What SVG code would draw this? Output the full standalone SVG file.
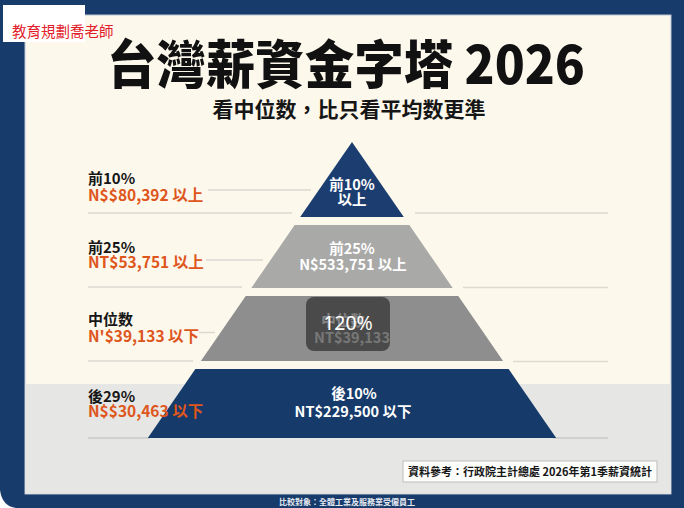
<svg xmlns="http://www.w3.org/2000/svg" width="684" height="508" viewBox="0 0 684 508">
<style>
text{font-family:"Noto Sans CJK TC","Noto Sans CJK SC",sans-serif;}
.b{font-weight:700;}
.lbl{font-size:15px;font-weight:700;fill:#161616;}
.val{font-size:15.5px;font-weight:700;fill:#de561c;}
.in{font-size:14.5px;font-weight:700;fill:#ffffff;text-anchor:middle;}
.sep{stroke:#dcd9d0;stroke-width:1.5;fill:none;}
</style>
<rect x="0" y="0" width="684" height="508" fill="#173b6b"/>
<path d="M0 490 Q2 506 16 508 L0 508 Z" fill="#ffffff"/>
<rect x="25" y="15" width="646" height="479" fill="#fcf8ec" stroke="#b9c4d2" stroke-width="1"/>
<rect x="25.5" y="384" width="645" height="109.5" fill="#e6e6e4"/>
<g id="watermark">
<rect x="3" y="5" width="82" height="37" fill="#ffffff"/>
<text x="12" y="37" font-size="14.5" fill="#e3202a">教育規劃喬老師</text>
</g>
<g id="title">
<text x="346" y="84" font-size="52" font-weight="900" fill="#111111" text-anchor="middle" textLength="478" lengthAdjust="spacingAndGlyphs">台灣薪資金字塔 2026</text>
<text x="349" y="117" font-size="21" class="b" fill="#161616" text-anchor="middle">看中位数，比只看平均数更準</text>
</g>
<g id="connectors">
<line class="sep" x1="208" y1="190" x2="311" y2="190"/>
<line class="sep" x1="88" y1="213" x2="292" y2="213"/>
<line class="sep" x1="415" y1="213" x2="608" y2="213"/>
<line class="sep" x1="206" y1="260" x2="263" y2="260"/>
<line class="sep" x1="88" y1="287" x2="242" y2="287"/>
<line class="sep" x1="463" y1="287.5" x2="608" y2="287.5"/>
<line class="sep" x1="199" y1="332.5" x2="215" y2="332.5"/>
<line class="sep" x1="88" y1="361" x2="193" y2="361"/>
<line class="sep" x1="513" y1="361.5" x2="608" y2="361.5"/>
<line x1="88" y1="438" x2="150" y2="438" stroke="#c9c9c7" stroke-width="1.5"/>
<line x1="553" y1="438" x2="608" y2="438" stroke="#c9c9c7" stroke-width="1.5"/>
</g>
<g id="tier-top10">
<polygon points="352,142 403.8,217 300.2,217" fill="#1b3d6f"/>
<text class="in" x="352" y="190" font-size="14">前10%</text>
<text class="in" x="352" y="205" font-size="14">以上</text>
</g>
<g id="tier-top25">
<polygon points="294.7,225 409.3,225 452.7,288 251.3,288" fill="#a9a9a8"/>
<text class="in" x="352" y="254">前25%</text>
<text class="in" x="353" y="270">N$533,751 以上</text>
</g>
<g id="tier-median">
<polygon points="245.7,296 458.3,296 503.1,361 200.9,361" fill="#8e8e8e"/>
<text class="in" x="343" y="326" fill="#eeeeee">中位数</text>
<text class="in" x="352" y="343" font-size="15.5" style="fill:#e4e4e4">NT$39,133</text>
<rect x="306" y="297" width="84" height="54" rx="8" fill="#000000" fill-opacity="0.48"/>
<text x="348" y="330" font-size="19.5" fill="#ffffff" text-anchor="middle" style="font-family:'Noto Sans','Open Sans',sans-serif">120%</text>
</g>
<g id="tier-bottom">
<polygon points="195.4,369 508.6,369 556.2,438 147.8,438" fill="#163a6a"/>
<text class="in" x="354" y="399">後10%</text>
<text class="in" x="353" y="417" font-size="15">NT$229,500 以下</text>
</g>
<g id="label-top10">
<text class="lbl" x="88" y="184">前10%</text>
<text class="val" x="88" y="201">N$$80,392 以上</text>
</g>
<g id="label-top25">
<text class="lbl" x="88" y="253">前25%</text>
<text class="val" x="88" y="268">NT$53,751 以上</text>
</g>
<g id="label-median">
<text class="lbl" x="88" y="325">中位数</text>
<text class="val" x="88" y="342">N'$39,133 以下</text>
</g>
<g id="label-bottom">
<text class="lbl" x="88" y="402">後29%</text>
<text class="val" x="88" y="417">N$$30,463 以下</text>
</g>
<g id="source">
<rect x="403" y="461" width="254" height="21" fill="#fdfdfb" stroke="#bdbdbd" stroke-width="1"/>
<text x="530" y="476" font-size="11" class="b" fill="#161616" text-anchor="middle">資料參考：行政院主計總處 2026年第1季薪資統計</text>
</g>
<text x="347" y="505" font-size="8" class="b" fill="#e3e8f0" text-anchor="middle">比較對象：全體工業及服務業受僱員工</text>
</svg>
